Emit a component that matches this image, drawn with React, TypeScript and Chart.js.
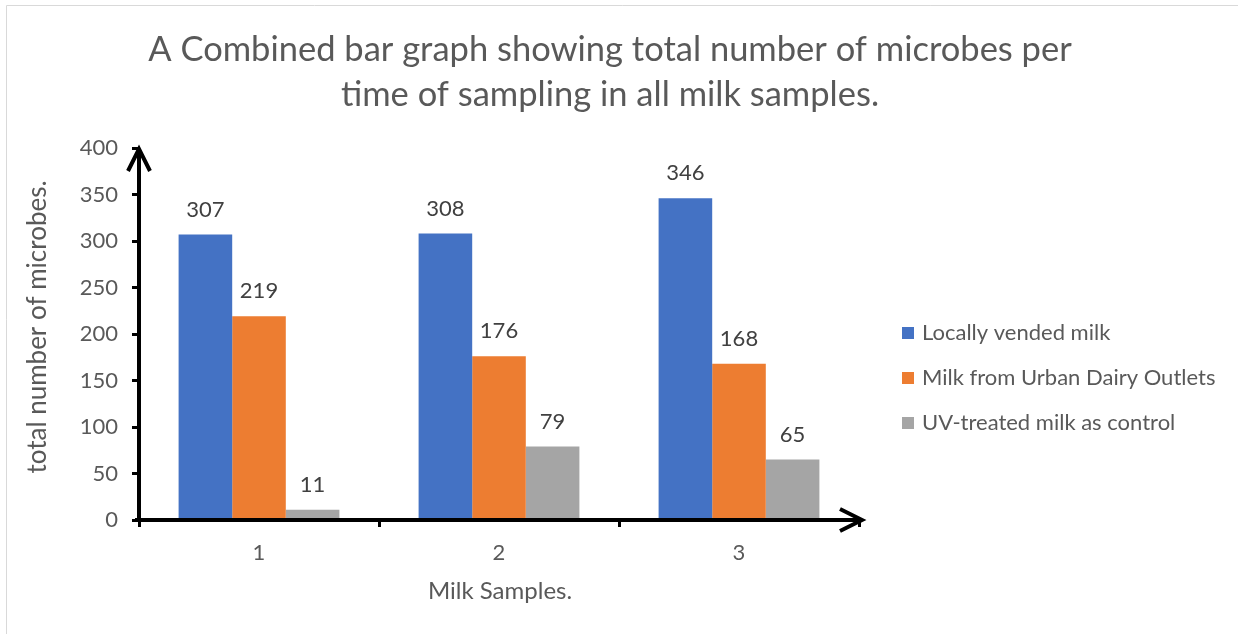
import React, { useEffect, useRef } from "react";
import { Chart, registerables } from "chart.js";

Chart.register(...registerables);

const categories = ["1", "2", "3"];
const seriesNames = [
  "Locally vended milk",
  "Milk from Urban Dairy Outlets",
  "UV-treated milk as control",
];
const locallyVended = [307, 308, 346];
const urbanDairy = [219, 176, 168];
const uvTreated = [11, 79, 65];
const seriesColors = ["#4472C4", "#ED7D31", "#A5A5A5"];
const titleLines = [
  "A Combined bar graph showing total number of microbes per",
  "time of sampling in all milk samples.",
];
const xTitle = "Milk Samples.";
const yTitle = "total number of microbes.";
const yMax = 400;
const yStep = 50;

const FONT = "Lato, 'Open Sans', sans-serif";
const TEXT = "#595959";

const decorPlugin = {
  id: "decor",
  afterDatasetsDraw(chart: any) {
    const ctx = chart.ctx;
    const { left, right, top, bottom } = chart.chartArea;
    ctx.save();
    // data labels
    ctx.fillStyle = "#404040";
    ctx.font = `22px ${FONT}`;
    ctx.textAlign = "center";
    ctx.textBaseline = "bottom";
    chart.data.datasets.forEach((ds: any, i: number) => {
      const meta = chart.getDatasetMeta(i);
      meta.data.forEach((bar: any, j: number) => {
        ctx.fillText(String(ds.data[j]), bar.x, bar.y - 14);
      });
    });
    // axes
    ctx.strokeStyle = "#000";
    ctx.lineWidth = 4;
    ctx.lineCap = "butt";
    ctx.lineJoin = "miter";
    ctx.beginPath();
    ctx.moveTo(left, bottom + 2);
    ctx.lineTo(left, top + 1);
    ctx.stroke();
    ctx.beginPath();
    ctx.moveTo(left - 11, top + 23);
    ctx.lineTo(left, top + 1);
    ctx.lineTo(left + 11, top + 23);
    ctx.stroke();
    ctx.beginPath();
    ctx.moveTo(left - 4, bottom);
    ctx.lineTo(right + 3, bottom);
    ctx.stroke();
    ctx.beginPath();
    ctx.moveTo(right - 19, bottom - 11);
    ctx.lineTo(right + 3, bottom);
    ctx.lineTo(right - 19, bottom + 11);
    ctx.stroke();
    ctx.restore();
  },
  afterDraw(chart: any) {
    const ctx = chart.ctx;
    ctx.save();
    // frame lines
    ctx.strokeStyle = "#d9d9d9";
    ctx.lineWidth = 1;
    ctx.beginPath();
    ctx.moveTo(6.5, 634);
    ctx.lineTo(6.5, 5.5);
    ctx.lineTo(1238, 5.5);
    ctx.stroke();
    // title
    ctx.fillStyle = TEXT;
    ctx.textAlign = "center";
    ctx.textBaseline = "middle";
    ctx.font = `34.5px ${FONT}`;
    ctx.fillText(titleLines[0], 610, 50);
    ctx.fillText(titleLines[1], 610, 95);
    // axis titles
    ctx.font = `24px ${FONT}`;
    ctx.fillText(xTitle, 500, 591);
    ctx.save();
    ctx.font = `26px ${FONT}`;
    ctx.translate(38, 327);
    ctx.rotate(-Math.PI / 2);
    ctx.fillText(yTitle, 0, 0);
    ctx.restore();
    // legend
    ctx.textAlign = "left";
    ctx.font = `22px ${FONT}`;
    seriesNames.forEach((name, i) => {
      const y = 333 + i * 45;
      ctx.fillStyle = seriesColors[i];
      ctx.fillRect(902, y - 6, 12, 12);
      ctx.fillStyle = TEXT;
      ctx.fillText(name, 922, y);
    });
    ctx.restore();
  },
};

export default function App() {
  const ref = useRef<HTMLCanvasElement | null>(null);
  useEffect(() => {
    if (!ref.current) return;
    const chart = new Chart(ref.current, {
      type: "bar",
      data: {
        labels: categories,
        datasets: [locallyVended, urbanDairy, uvTreated].map((d, i) => ({
          label: seriesNames[i],
          data: d,
          backgroundColor: seriesColors[i],
          borderWidth: 0,
          barPercentage: 1,
          categoryPercentage: 0.67,
        })),
      },
      options: {
        animation: false,
        responsive: false,
        devicePixelRatio: 1,
        layout: { padding: { left: 0, top: 148, right: 1238 - 859, bottom: 0 } },
        plugins: {
          legend: { display: false },
          title: { display: false },
          tooltip: { enabled: false },
        },
        scales: {
          x: {
            offset: true,
            grid: {
              display: true,
              offset: true,
              drawOnChartArea: false,
              drawTicks: true,
              tickLength: 7,
              tickColor: "#000",
              tickWidth: 3,
            },
            border: { display: false },
            ticks: { color: TEXT, font: { size: 22, family: FONT }, padding: 13 },
            afterFit(scale: any) {
              scale.height = 634 - 520;
            },
          },
          y: {
            min: 0,
            max: yMax,
            ticks: {
              stepSize: yStep,
              color: TEXT,
              font: { size: 22, family: FONT },
              padding: 14,
            },
            grid: {
              display: true,
              drawOnChartArea: false,
              drawTicks: true,
              tickLength: 7,
              tickColor: "#000",
              tickWidth: 3,
            },
            border: { display: false },
            afterFit(scale: any) {
              scale.width = 139;
            },
          },
        },
      },
      plugins: [decorPlugin],
    } as any);
    return () => chart.destroy();
  }, []);
  return (
    <div style={{ position: "fixed", left: 0, top: 0, width: 1238, height: 634, background: "#fff" }}>
      <canvas ref={ref} width={1238} height={634} style={{ display: "block" }} />
    </div>
  );
}
